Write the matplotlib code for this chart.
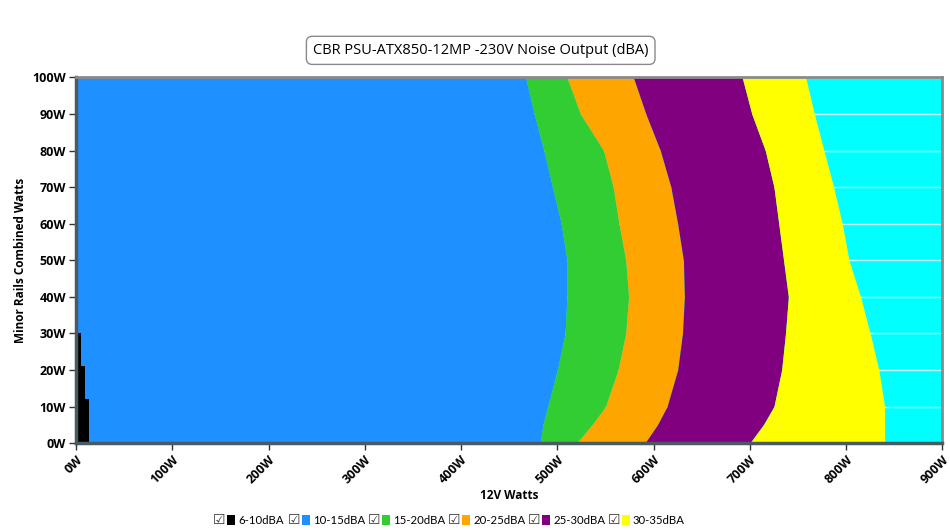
import matplotlib
matplotlib.use("Agg")
import matplotlib.pyplot as plt
from matplotlib.patches import Rectangle

plt.rcParams['font.family'] = ['Open Sans', 'DejaVu Sans']

# minor rails load levels (W) and 12V boundary positions (W) between noise bands
minor_w = [0, 5, 10, 20, 30, 40, 50, 60, 70, 80, 90, 100]
edge_10_15 = [482, 485, 490, 500, 508, 510, 510, 504, 495, 486, 476, 467]
edge_15_20 = [520, 536, 550, 563, 571, 574, 571, 564, 558, 548, 524, 510]
edge_20_25 = [591, 604, 614, 625, 630, 632, 631, 625, 618, 607, 592, 579]
edge_25_30 = [700, 714, 725, 733, 737, 740, 735, 730, 725, 716, 702, 692]
edge_30_35 = [840, 840, 840, 834, 825, 815, 803, 796, 787, 777, 767, 758]

# the quiet 6-10dBA corner (steps)
quiet_minor = [0, 12, 21, 30]
quiet_12v = [14, 9, 5, 5]

bands = ["6-10dBA", "10-15dBA", "15-20dBA", "20-25dBA", "25-30dBA", "30-35dBA"]
colors = ["#000000", "#1E90FF", "#32CD32", "#FFA500", "#800080", "#FFFF00"]

xticks = list(range(0, 901, 100))
yticks = list(range(0, 101, 10))

fig = plt.figure(figsize=(9.5, 5.3), dpi=100)
ax = fig.add_axes([0.08, 0.164, 0.912, 0.69])
ax.set_facecolor("#00FFFF")
ax.set_axisbelow(True)
ax.grid(axis="y", color="#c8ffff", lw=1)

zero = [0] * len(minor_w)
ax.fill_betweenx(minor_w, zero, edge_10_15, color=colors[1], lw=0)
ax.fill_betweenx(minor_w, edge_10_15, edge_15_20, color=colors[2], lw=0)
ax.fill_betweenx(minor_w, edge_15_20, edge_20_25, color=colors[3], lw=0)
ax.fill_betweenx(minor_w, edge_20_25, edge_25_30, color=colors[4], lw=0)
ax.fill_betweenx(minor_w, edge_25_30, edge_30_35, color=colors[5], lw=0)
ax.fill_betweenx(quiet_minor, [0] * len(quiet_minor), quiet_12v, step="post", color=colors[0], lw=0)

ax.set_xlim(0, 900)
ax.set_ylim(0, 100)
ax.set_xticks(xticks)
ax.set_xticklabels([f"{v}W" for v in xticks], rotation=45, ha="right", va="top",
                   fontsize=9, fontweight="bold", rotation_mode="anchor")
ax.set_yticks(yticks)
ax.set_yticklabels([f"{v}W" for v in yticks], fontsize=9, fontweight="bold")
ax.tick_params(length=5, width=1, color="#333333", pad=2)

for side in ["top", "right"]:
    ax.spines[side].set_color("#8a8a8a")
    ax.spines[side].set_linewidth(2)
for side in ["left", "bottom"]:
    ax.spines[side].set_color("#4a5a60")
    ax.spines[side].set_linewidth(2.5)

ax.set_xlabel("12V Watts", fontsize=8.5, fontweight="bold")
ax.xaxis.set_label_coords(0.5, -0.125)
ax.set_ylabel("Minor Rails Combined Watts", fontsize=8.5, fontweight="bold", labelpad=4)

fig.text(0.506, 0.905, "CBR PSU-ATX850-12MP -230V Noise Output (dBA)", ha="center", va="center",
         fontsize=10.5,
         bbox=dict(boxstyle="round,pad=0.45,rounding_size=0.4", fc="white", ec="#8a8a8a", lw=1))

# legend row with check boxes
lx0 = 288 / 950
step = 80 / 950
ly = 1 - 520 / 530
for i, (name, c) in enumerate(zip(bands, colors)):
    x = lx0 + (i - 1) * step + (5 / 950 if i == 0 else 0)
    fig.text(x, ly, "\u2611", ha="left", va="center", fontsize=10, color="#333333",
             family="DejaVu Sans")
    fig.patches.append(Rectangle((x + 14 / 950, ly - 5 / 530), 8 / 950, 10 / 530,
                                 transform=fig.transFigure, fc=c, ec="none"))
    fig.text(x + 25 / 950, ly, name, ha="left", va="center", fontsize=8.2,
             family=["Lato", "DejaVu Sans"])

fig.savefig("out.png", dpi=100)
